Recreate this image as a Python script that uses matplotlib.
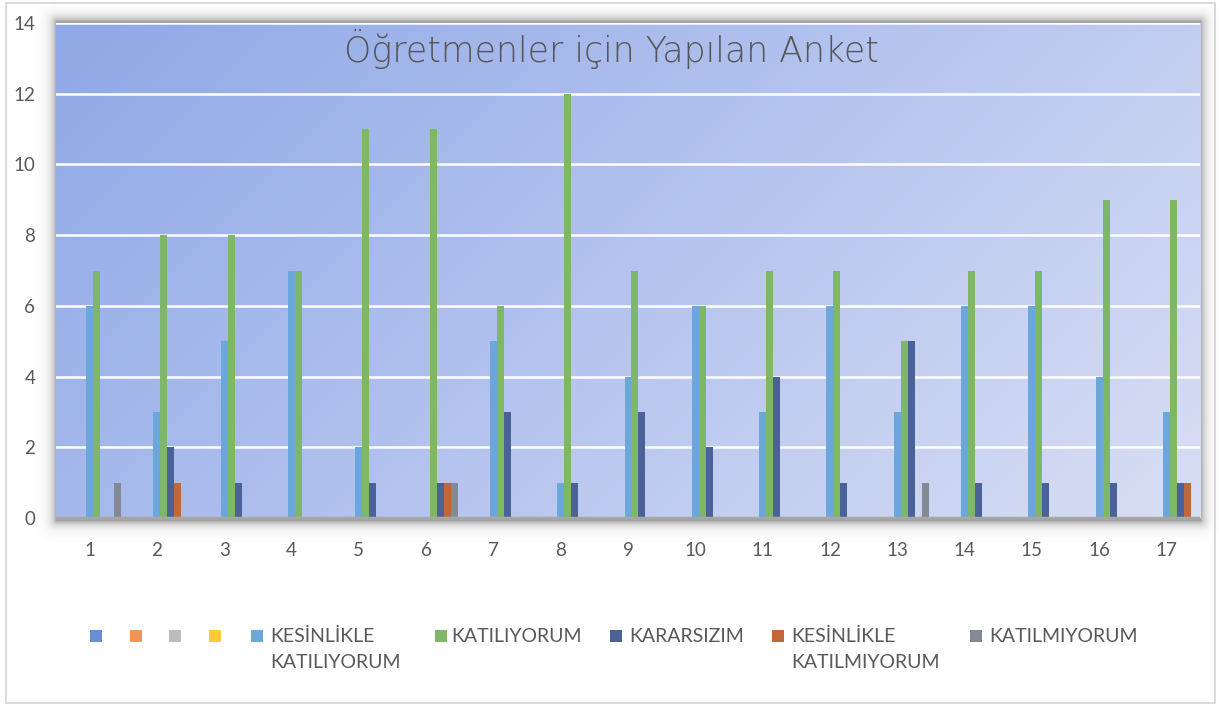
import numpy as np
import matplotlib
matplotlib.use("Agg")
import matplotlib.pyplot as plt
from matplotlib.patches import Rectangle
from matplotlib.colors import LinearSegmentedColormap

# ---------------- data ----------------
categories = [str(i) for i in range(1, 18)]
title = "Öğretmenler için Yapılan Anket"
series_names = ["", "", "", "",
                "KESİNLİKLE\nKATILIYORUM", "KATILIYORUM", "KARARSIZIM",
                "KESİNLİKLE\nKATILMIYORUM", "KATILMIYORUM"]
empty_series = [0] * 17
kesinlikle_katiliyorum = [6, 3, 5, 7, 2, 0, 5, 1, 4, 6, 3, 6, 3, 6, 6, 4, 3]
katiliyorum = [7, 8, 8, 7, 11, 11, 6, 12, 7, 6, 7, 7, 5, 7, 7, 9, 9]
kararsizim = [0, 2, 1, 0, 1, 1, 3, 1, 3, 2, 4, 1, 5, 1, 1, 1, 1]
kesinlikle_katilmiyorum = [0, 1, 0, 0, 0, 1, 0, 0, 0, 0, 0, 0, 0, 0, 0, 0, 1]
katilmiyorum = [1, 0, 0, 0, 0, 1, 0, 0, 0, 0, 0, 0, 1, 0, 0, 0, 0]
y_ticks = [0, 2, 4, 6, 8, 10, 12, 14]

series_values = [empty_series, empty_series, empty_series, empty_series,
                 kesinlikle_katiliyorum, katiliyorum, kararsizim,
                 kesinlikle_katilmiyorum, katilmiyorum]
colors = ["#6a8fd8", "#f0955a", "#bdbdbd", "#ffcc33",
          "#6ba6dc", "#7eb766", "#4a6298", "#c0683a", "#838a94"]

# ---------------- figure ----------------
W, H = 1219, 706
DPI = 100
plt.rcParams['font.family'] = ['Lato', 'DejaVu Sans']
fig = plt.figure(figsize=(W / DPI, H / DPI), dpi=DPI)
fig.patch.set_facecolor("white")

def fx(px):
    return px / W

def fy(py):
    return 1 - py / H

# outer frame
fig.patches.append(Rectangle((fx(6), fy(703)), fx(1215) - fx(6), fy(3) - fy(703),
                             transform=fig.transFigure, facecolor="white",
                             edgecolor="#d6d6d6", linewidth=1.2, zorder=-3))

# plot area in pixels
x0, x1, y0, y1 = 56, 1200, 23, 518

# drop shadow around plot area
yy, xx = np.mgrid[0:H, 0:W]
dx = np.maximum(np.maximum(x0 - xx, xx - x1), 0)
dy = np.maximum(np.maximum(y0 - 2 - yy, yy - (y1 + 2)), 0)
d = np.hypot(dx, dy)
alpha = 0.55 * np.exp(-d / 5.0)
shadow = np.zeros((H, W, 4))
shadow[..., :3] = 0.35
shadow[..., 3] = alpha
fig.figimage(shadow, xo=0, yo=0, origin='upper', zorder=-2)

ax = fig.add_axes([fx(x0), fy(y1), fx(x1) - fx(x0), fy(y0) - fy(y1)])
ax.patch.set_visible(False)

# gradient background
gx, gy = np.meshgrid(np.linspace(0, 1, 300), np.linspace(0, 1, 150))
t = (gx * (x1 - x0) + gy * (y1 - y0)) / ((x1 - x0) + (y1 - y0))
cmap = LinearSegmentedColormap.from_list("bg", ["#8fa8e6", "#b4c3ef", "#d8def3"])
ax.imshow(t, cmap=cmap, extent=[0, 1, 0, 1], transform=ax.transAxes,
          aspect='auto', origin='upper', zorder=0, interpolation='bilinear')

n = len(series_values)
x = np.arange(len(categories))
bw = 0.104
for i, (vals, col) in enumerate(zip(series_values, colors)):
    ax.bar(x + (i - (n - 1) / 2) * bw, vals, width=bw, color=col, zorder=3,
           linewidth=0)

ax.set_xlim(-0.5, len(categories) - 0.5)
ax.set_ylim(0, 14)
ax.set_yticks(y_ticks)
ax.set_yticklabels([str(v) for v in y_ticks])
ax.set_xticks(x)
ax.set_xticklabels(categories)
for v in y_ticks[1:]:
    ax.axhline(v, color="white", linewidth=1.8, zorder=2)
ax.axhline(0, color="#a8a8a8", linewidth=2.5, zorder=4)
for s in ax.spines.values():
    s.set_visible(False)
ax.tick_params(axis='both', length=0, labelsize=13.5, labelcolor="#595959")
ax.tick_params(axis='y', pad=15)
ax.tick_params(axis='x', pad=17)
ax.set_aspect('auto')

ax.text(0.4856, 0.948, title, transform=ax.transAxes, ha='center', va='center',
        fontsize=25, color="#555555", family=['DejaVu Sans'],
        fontweight='light', zorder=5)

# legend (manual, Excel-like layout)
marker_x = [96, 136, 175, 215, 257, 441, 616, 778, 976]
text_x = [None, None, None, None, 270, 451, 629, 791, 989]
my = 636
ms = 12
for name, col, mx, tx in zip(series_names, colors, marker_x, text_x):
    fig.patches.append(Rectangle((fx(mx - ms / 2), fy(my + ms / 2)), ms / W, ms / H,
                                 transform=fig.transFigure, facecolor=col,
                                 edgecolor='none'))
    if tx is not None and name:
        fig.text(fx(tx), fy(628), name, ha='left', va='top', fontsize=14,
                 color="#595959", linespacing=1.6)

fig.savefig("out.png", dpi=DPI)
